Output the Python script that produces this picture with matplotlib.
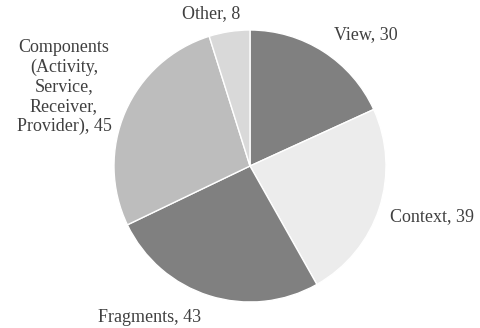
import matplotlib.pyplot as plt

# slice data, clockwise from 12 o'clock
labels = ['View', 'Context', 'Fragments', 'Components\n(Activity,\nService,\nReceiver,\nProvider)', 'Other']
values = [30, 39, 43, 45, 8]
colors = ['#808080', '#ececec', '#808080', '#bdbdbd', '#d9d9d9']

# where each label sits (pixel coords, origin bottom left)
label_pos = [(366, 293), (432, 111), (150, 11), (64, 241), (211, 314)]

plt.rcParams['font.family'] = ['Liberation Serif', 'DejaVu Serif']

fig = plt.figure(figsize=(4.81, 3.28), dpi=100)
ax = fig.add_axes([0, 0, 1, 1])
ax.pie(values, colors=colors, startangle=90, counterclock=False,
       radius=136, center=(250, 162),
       wedgeprops={'edgecolor': 'white', 'linewidth': 1})
ax.set_xlim(0, 481)
ax.set_ylim(0, 328)
ax.set_aspect('equal')
ax.axis('off')

for lab, val, (x, y) in zip(labels, values, label_pos):
    ax.text(x, y, '{}, {}'.format(lab, val), ha='center', va='center',
            fontsize=13, color='#404040', linespacing=1.2)

fig.savefig('out.png', dpi=100)
